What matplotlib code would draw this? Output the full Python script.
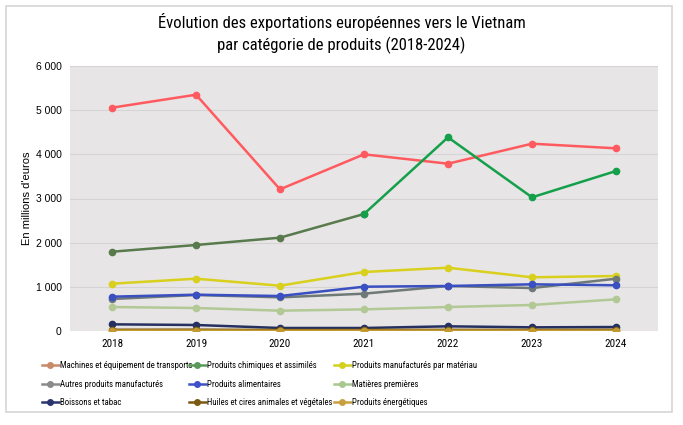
import matplotlib
matplotlib.use("Agg")
import matplotlib.pyplot as plt
from matplotlib.lines import Line2D
from matplotlib.patches import Rectangle
from matplotlib import font_manager

years = ["2018", "2019", "2020", "2021", "2022", "2023", "2024"]

categories = [
    "Machines et équipement de transports",
    "Produits chimiques et assimilés",
    "Produits manufacturés par matériau",
    "Autres produits manufacturés",
    "Produits alimentaires",
    "Matières premières",
    "Boissons et tabac",
    "Huiles et cires animales et végétales",
    "Produits énergétiques",
]

machines = [5056, 5350, 3208, 4000, 3788, 4241, 4136]
chimiques = [1795, 1947, 2113, 2649, 4385, 3027, 3622]
manuf_materiau = [1071, 1184, 1026, 1336, 1433, 1216, 1245]
autres_manuf = [724, 815, 762, 845, 1019, 973, 1184]
alimentaires = [777, 822, 792, 1003, 1019, 1057, 1035]
matieres = [543, 521, 460, 490, 543, 589, 717]
boissons = [151, 136, 68, 68, 106, 83, 90]
huiles = [28, 30, 22, 24, 26, 25, 27]
energie = [8, 10, 6, 7, 9, 8, 8]

series = [machines, chimiques, manuf_materiau, autres_manuf, alimentaires,
          matieres, boissons, huiles, energie]

# colours of the drawn lines
line_colors = ["#ff5a5f", "#14a04a", "#d8d01c", "#6f7a78", "#3a4fc0",
               "#b2c995", "#263060", "#7a5a10", "#c49a30"]
# the legend swatches don't quite match the lines in the original
legend_colors = ["#c98a6a", "#5a9a5a", "#d4d020", "#8a8a8a", "#4050c8",
                 "#a8c890", "#2a3570", "#7a5a10", "#c8a040"]
# chemicals line is olive up to 2021 in the original, then bright green
chim_early_color = "#587a4c"
chim_split = 3

installed = {f.name for f in font_manager.fontManager.ttflist}
narrow = "Roboto"
for cand in ["Roboto Condensed", "IBM Plex Sans Condensed", "Liberation Sans Narrow"]:
    if cand in installed:
        narrow = cand
        break

fig = plt.figure(figsize=(6.83, 4.25), dpi=100)
fig.patches.append(Rectangle((6 / 683, 1 - 412 / 425), 666 / 683, 406 / 425,
                             transform=fig.transFigure, fill=False,
                             edgecolor="#d6d6d6", linewidth=1.2))

ax = fig.add_axes([70 / 683, 1 - 331 / 425, 588 / 683, 265 / 425])
ax.set_facecolor("#e7e5e5")
for s in ax.spines.values():
    s.set_visible(False)

x = list(range(len(years)))
for vals, c in zip(series, line_colors):
    if vals is chimiques:
        ax.plot(x[:chim_split + 1], vals[:chim_split + 1], color=chim_early_color,
                lw=1.8, marker="o", ms=4.5, zorder=3)
        ax.plot(x[chim_split:], vals[chim_split:], color=c, lw=1.8, marker="o",
                ms=4.5, zorder=3)
    else:
        ax.plot(x, vals, color=c, lw=1.8, marker="o", ms=4.5, zorder=3)

ax.set_xlim(-0.5, len(years) - 0.5)
ax.set_ylim(0, 6000)
ax.set_xticks(x)
ax.set_xticklabels(years, family=narrow, fontsize=8)
ax.set_yticks(range(0, 6001, 1000))
ax.set_yticklabels([f"{v:,}".replace(",", " ") for v in range(0, 6001, 1000)],
                   fontsize=7.5, family="Liberation Sans")
ax.tick_params(length=0, pad=6)
ax.grid(axis="y", color="#d5d3d3", lw=0.8)
ax.set_axisbelow(True)
ax.set_ylabel("En millions d'euros", fontsize=8, family="Liberation Sans", labelpad=3)

fig.text(0.5, 1 - 22 / 425, "Évolution des exportations européennes vers le Vietnam",
         ha="center", va="center", fontsize=12, family=narrow)
fig.text(0.5, 1 - 45 / 425, "par catégorie de produits (2018-2024)",
         ha="center", va="center", fontsize=12, family=narrow)

# three one-column legends so the columns sit at even spacing like the original
col_x = [42, 189, 334]
for col in range(3):
    idx = [col, col + 3, col + 6]
    hs = [Line2D([], [], color=legend_colors[i], lw=1.8, marker="o", ms=4) for i in idx]
    fig.legend(hs, [categories[i] for i in idx], loc="upper left",
               bbox_to_anchor=(col_x[col] / 683, 1 - 361 / 425),
               frameon=False, prop={"family": narrow, "size": 6.3},
               handlelength=1.9, handletextpad=0.2,
               labelspacing=1.1, borderaxespad=0, borderpad=0)

fig.savefig("out.png", dpi=100)
